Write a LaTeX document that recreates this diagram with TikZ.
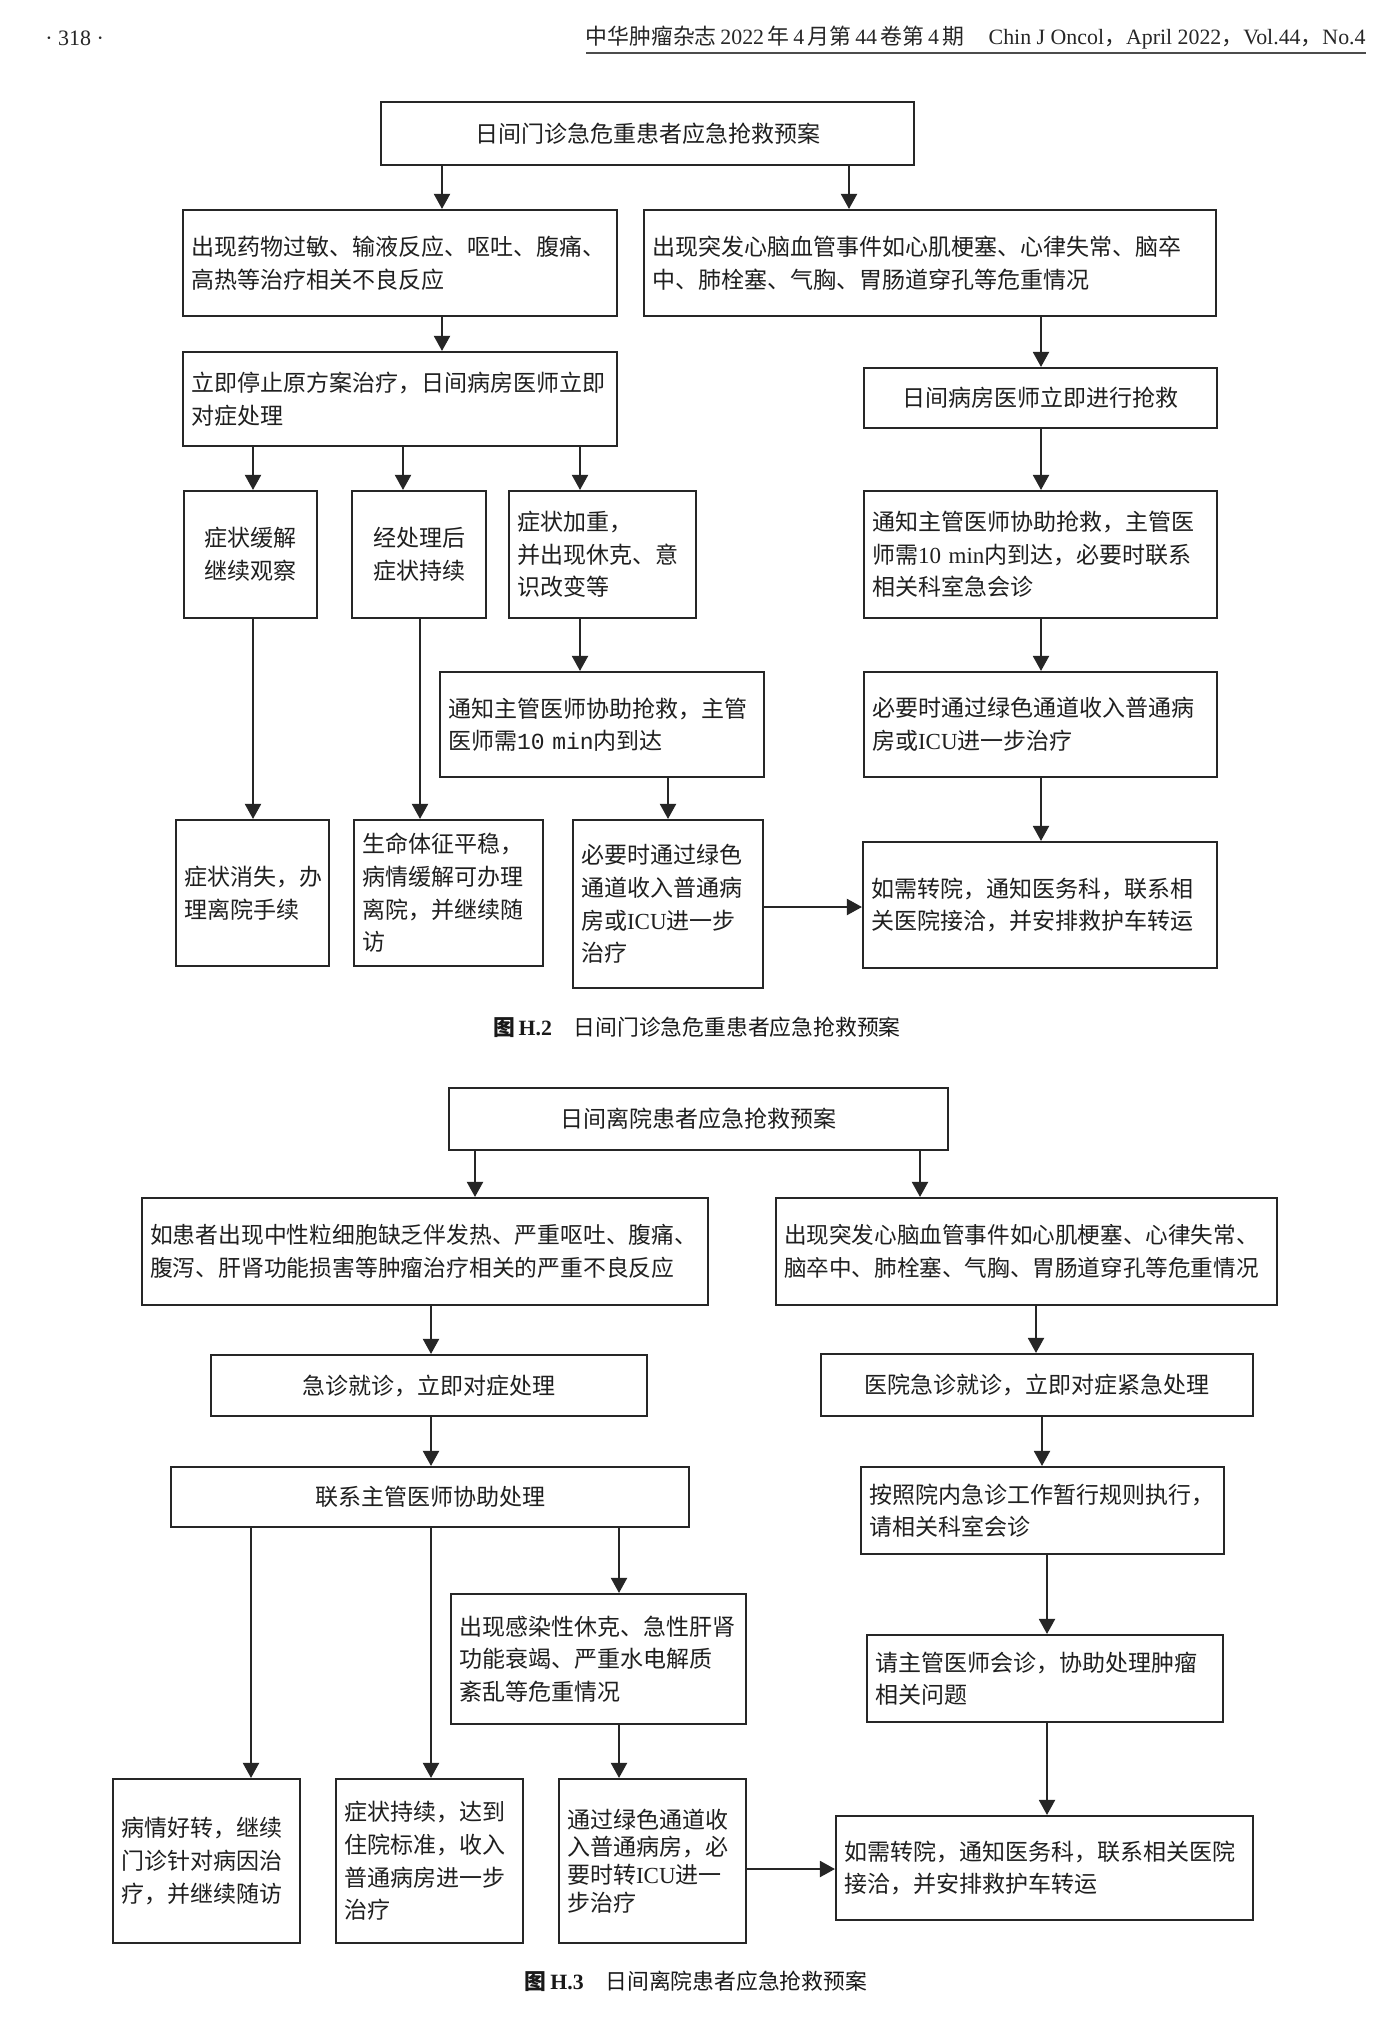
\documentclass[tikz,border=0pt]{standalone}
\usepackage{fontspec}
\setmainfont{Noto Sans CJK SC}
\newfontfamily\latf{Liberation Serif}
\newfontfamily\monof{Liberation Mono}
\usetikzlibrary{arrows.meta}
\newcommand\bx[8][]{%
  \pgfmathsetmacro\bxcx{(#3+#5)/2}%
  \pgfmathsetmacro\bxcy{(#4+#6)/2}%
  \pgfmathsetmacro\bxw{(#5-#3)/2}%
  \pgfmathsetmacro\bxh{(#6-#4)/2}%
  \pgfmathsetmacro\bxt{(#5-#3)/2-8}%
  \node[box, minimum width=\bxw pt, minimum height=\bxh pt, text width=\bxt pt, align=#7, #1] (#2) at (\bxcx,\bxcy) {#8};}
\begin{document}
\begin{tikzpicture}[x=0.5pt,y=-0.5pt,
  box/.style={draw=black!85, line width=1.05pt, rectangle, inner xsep=4pt, inner ysep=2pt,
    font=\fontsize{11.5}{16.3}\selectfont, text=black!88},
  arr/.style={draw=black!85, line width=1pt, -{Triangle[length=7.5pt,width=8pt]}},
  captxt/.style={font=\fontsize{10.9}{12}\selectfont, text=black!90, inner sep=0pt},
]
\fill[white] (0,0) rectangle (1394,2032);
\useasboundingbox (0,0) rectangle (1394,2032);

% ---------- running head ----------
\node[anchor=west, inner sep=0pt, font=\latf\fontsize{11}{12}\selectfont, text=black!85] (pg) at (45,38) {· 318 ·};
\node[anchor=east, inner sep=0pt, text=black!85] (hd) at (1366,38)
 {\resizebox{390pt}{!}{\fontsize{10}{12}\selectfont 中华肿瘤杂志\,{\latf 2022}\,年\,{\latf 4}\,月第\,{\latf 44}\,卷第\,{\latf 4}\,期\hspace{1.1em}{\latf Chin J Oncol}，{\latf April 2022}，{\latf Vol.44}，{\latf No.4}}};
\coordinate (ulA) at (586,53);
\coordinate (ulB) at (1366,53);
\draw[line width=1.2pt, black!70] (ulA) -- (ulB);

% ---------- Figure H.2 ----------
\bx{t2}{381}{102}{914}{165}{center}{日间门诊急危重患者应急抢救预案}
\bx{l1}{183}{210}{617}{316}{left}{出现药物过敏、输液反应、呕吐、腹痛、\\高热等治疗相关不良反应}
\bx{r1}{644}{210}{1216}{316}{left}{出现突发心脑血管事件如心肌梗塞、心律失常、脑卒\\中、肺栓塞、气胸、胃肠道穿孔等危重情况}
\bx{l2}{183}{352}{617}{446}{left}{立即停止原方案治疗，日间病房医师立即\\对症处理}
\bx{r2}{864}{368}{1217}{428}{center}{日间病房医师立即进行抢救}
\bx{a}{184}{491}{317}{618}{center}{症状缓解\\继续观察}
\bx{b}{352}{491}{486}{618}{center}{经处理后\\症状持续}
\bx{c}{509}{491}{696}{618}{left}{症状加重，\\并出现休克、意\\识改变等}
\bx{r3}{864}{491}{1217}{618}{left}{通知主管医师协助抢救，主管医\\师需{\latf 10 min}内到达，必要时联系\\相关科室急会诊}
\bx{d}{440}{672}{764}{777}{left}{通知主管医师协助抢救，主管\\医师需{\monof 10 min}内到达}
\bx{r4}{864}{672}{1217}{777}{left}{必要时通过绿色通道收入普通病\\房或{\latf ICU}进一步治疗}
\bx{e}{176}{820}{329}{966}{left}{症状消失，办\\理离院手续}
\bx{f}{354}{820}{543}{966}{left}{生命体征平稳，\\病情缓解可办理\\离院，并继续随\\访}
\bx{g}{573}{820}{763}{988}{left}{必要时通过绿色\\通道收入普通病\\房或{\latf ICU}进一步\\治疗}
\bx{h}{863}{842}{1217}{968}{left}{如需转院，通知医务科，联系相\\关医院接洽，并安排救护车转运}

\coordinate (xa) at (442,0);
\coordinate (xb) at (849,0);
\coordinate (xc) at (1041,0);
\coordinate (xd) at (253,0);
\coordinate (xe) at (403,0);
\coordinate (xf) at (420,0);
\coordinate (xg) at (580,0);
\coordinate (xh) at (668,0);
\coordinate (yh) at (0,907);

\draw[arr] (t2.south -| xa) -- (l1.north -| xa);
\draw[arr] (t2.south -| xb) -- (r1.north -| xb);
\draw[arr] (l1.south -| xa) -- (l2.north -| xa);
\draw[arr] (r1.south -| xc) -- (r2.north -| xc);
\draw[arr] (l2.south -| xd) -- (a.north -| xd);
\draw[arr] (l2.south -| xe) -- (b.north -| xe);
\draw[arr] (l2.south -| xg) -- (c.north -| xg);
\draw[arr] (r2.south -| xc) -- (r3.north -| xc);
\draw[arr] (c.south -| xg) -- (d.north -| xg);
\draw[arr] (r3.south -| xc) -- (r4.north -| xc);
\draw[arr] (a.south -| xd) -- (e.north -| xd);
\draw[arr] (b.south -| xf) -- (f.north -| xf);
\draw[arr] (d.south -| xh) -- (g.north -| xh);
\draw[arr] (r4.south -| xc) -- (h.north -| xc);
\draw[arr] (g.east |- yh) -- (h.west |- yh);

\node[captxt] (cap2) at (697,1027) {{\bfseries 图\,{\latf H.2}}\quad 日间门诊急危重患者应急抢救预案};

% ---------- Figure H.3 ----------
\bx{t3}{449}{1088}{948}{1150}{center}{日间离院患者应急抢救预案}
\bx[font=\fontsize{11.4}{16.3}\selectfont]{m1}{142}{1198}{708}{1305}{left}{如患者出现中性粒细胞缺乏伴发热、严重呕吐、腹痛、\\腹泻、肝肾功能损害等肿瘤治疗相关的严重不良反应}
\bx[font=\fontsize{11.3}{16.3}\selectfont]{n1}{776}{1198}{1277}{1305}{left}{出现突发心脑血管事件如心肌梗塞、心律失常、\\脑卒中、肺栓塞、气胸、胃肠道穿孔等危重情况}
\bx{m2}{211}{1355}{647}{1416}{center}{急诊就诊，立即对症处理}
\bx{n2}{821}{1354}{1253}{1416}{center}{医院急诊就诊，立即对症紧急处理}
\bx{m3}{171}{1467}{689}{1527}{center}{联系主管医师协助处理}
\bx{n3}{861}{1467}{1224}{1554}{left}{按照院内急诊工作暂行规则执行，\\请相关科室会诊}
\bx{mm}{451}{1594}{746}{1724}{left}{出现感染性休克、急性肝肾\\功能衰竭、严重水电解质\\紊乱等危重情况}
\bx{n4}{867}{1635}{1223}{1722}{left}{请主管医师会诊，协助处理肿瘤\\相关问题}
\bx{p1}{113}{1779}{300}{1943}{left}{病情好转，继续\\门诊针对病因治\\疗，并继续随访}
\bx{p2}{336}{1779}{523}{1943}{left}{症状持续，达到\\住院标准，收入\\普通病房进一步\\治疗}
\bx[font=\fontsize{11.5}{13.8}\selectfont]{p3}{559}{1779}{746}{1943}{left}{通过绿色通道收\\入普通病房，必\\要时转{\latf ICU}进一\\步治疗}
\bx{q}{836}{1816}{1253}{1920}{left}{如需转院，通知医务科，联系相关医院\\接洽，并安排救护车转运}

\coordinate (xi) at (475,0);
\coordinate (xj) at (920,0);
\coordinate (xk) at (431,0);
\coordinate (xl) at (1036,0);
\coordinate (xm) at (1042,0);
\coordinate (xn) at (251,0);
\coordinate (xo) at (619,0);
\coordinate (xp) at (1047,0);
\coordinate (yq) at (0,1869);

\draw[arr] (t3.south -| xi) -- (m1.north -| xi);
\draw[arr] (t3.south -| xj) -- (n1.north -| xj);
\draw[arr] (m1.south -| xk) -- (m2.north -| xk);
\draw[arr] (n1.south -| xl) -- (n2.north -| xl);
\draw[arr] (m2.south -| xk) -- (m3.north -| xk);
\draw[arr] (n2.south -| xm) -- (n3.north -| xm);
\draw[arr] (m3.south -| xn) -- (p1.north -| xn);
\draw[arr] (m3.south -| xk) -- (p2.north -| xk);
\draw[arr] (m3.south -| xo) -- (mm.north -| xo);
\draw[arr] (mm.south -| xo) -- (p3.north -| xo);
\draw[arr] (n3.south -| xp) -- (n4.north -| xp);
\draw[arr] (n4.south -| xp) -- (q.north -| xp);
\draw[arr] (p3.east |- yq) -- (q.west |- yq);

\node[captxt] (cap3) at (696,1981) {{\bfseries 图\,{\latf H.3}}\quad 日间离院患者应急抢救预案};
\end{tikzpicture}
\end{document}
